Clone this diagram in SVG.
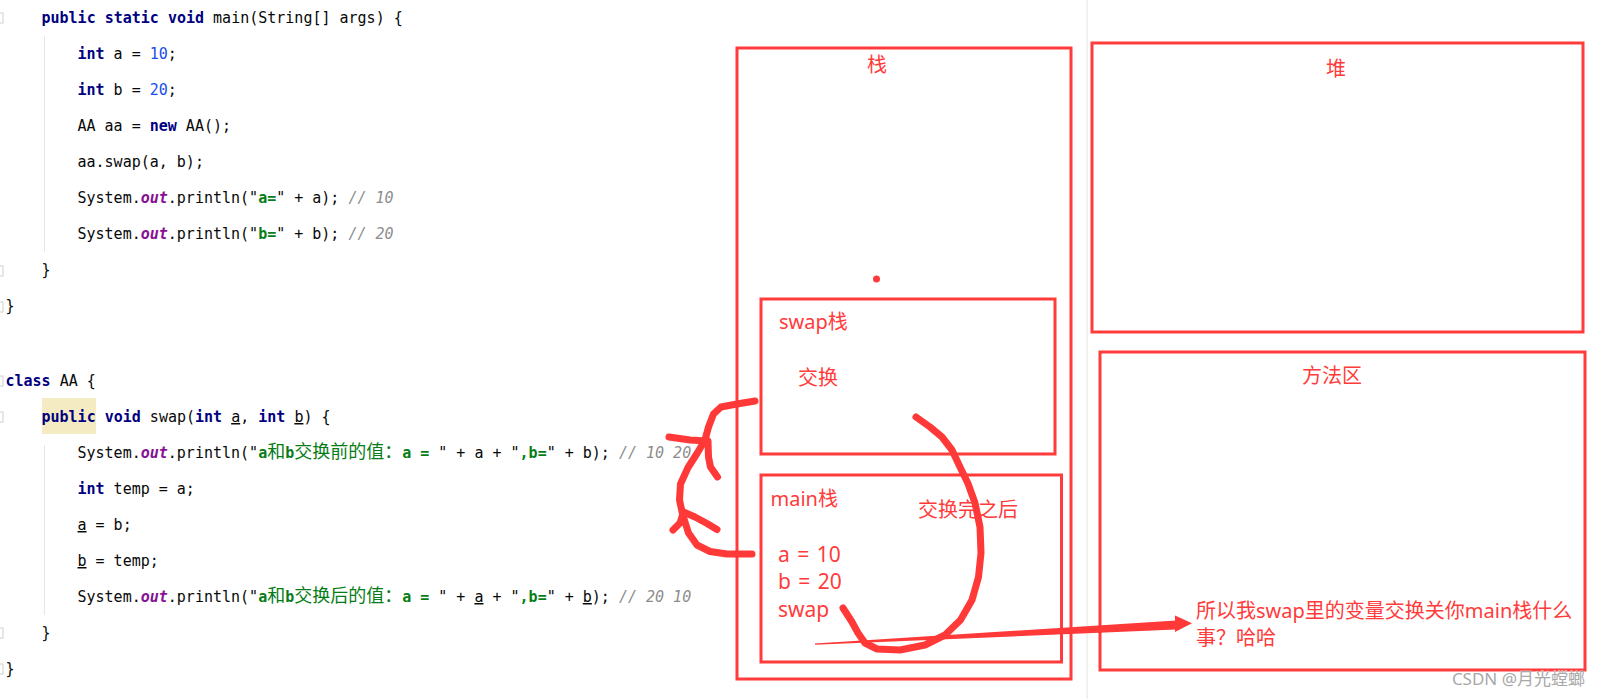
<svg xmlns="http://www.w3.org/2000/svg" width="1600" height="699" viewBox="0 0 1600 699">
<style>
.c{font-family:'DejaVu Sans Mono','Liberation Mono',monospace;font-size:15px;fill:#080808;white-space:pre}
.k{font-weight:bold;fill:#000080}
.n{fill:#1750EB}
.s{font-weight:bold;fill:#067D17}
.cm{font-style:italic;fill:#8C8C8C}
.o{font-weight:bold;font-style:italic;fill:#871094}
.u{text-decoration:underline}
.cj{font-family:'Noto Sans CJK SC',sans-serif;font-size:18px;font-weight:normal}
.box{fill:none;stroke:#FF3B3B;stroke-width:3}
.lbl{font-family:'Noto Sans','Noto Sans CJK SC',sans-serif;font-size:20px;fill:#FF3B3B}
.big{font-size:21px;word-spacing:2px}
.hand{fill:none;stroke:#FF3838;stroke-width:7;stroke-linecap:round;stroke-linejoin:round}
.fold{fill:#fff;stroke:#CFCFCF;stroke-width:1}
.guide{stroke:#E6E6E6;stroke-width:1}
</style>
<rect width="1600" height="699" fill="#FFFFFF"/>
<line x1="1087" y1="0" x2="1087" y2="699" stroke="#E4E4E4" stroke-width="1"/>
<g id="code">
<rect x="-1" y="13" width="4" height="10" class="fold"/>
<rect x="-1" y="266" width="4" height="10" class="fold"/>
<rect x="-1" y="302" width="4" height="10" class="fold"/>
<rect x="-1" y="376" width="4" height="10" class="fold"/>
<rect x="-1" y="412" width="4" height="10" class="fold"/>
<rect x="-1" y="628" width="4" height="10" class="fold"/>
<rect x="-1" y="664" width="4" height="10" class="fold"/>
<line x1="44.5" y1="36" x2="44.5" y2="252" class="guide"/>
<line x1="44.5" y1="445" x2="44.5" y2="615" class="guide"/>
<rect x="42" y="398" width="54" height="36" fill="#F5EBC2"/>
<text class="c" x="41.5" y="23"><tspan class="k">public static void</tspan> main(String[] args) {</text>
<text class="c" x="77.5" y="59"><tspan class="k">int</tspan> a = <tspan class="n">10</tspan>;</text>
<text class="c" x="77.5" y="95"><tspan class="k">int</tspan> b = <tspan class="n">20</tspan>;</text>
<text class="c" x="77.5" y="131">AA aa = <tspan class="k">new</tspan> AA();</text>
<text class="c" x="77.5" y="167">aa.swap(a, b);</text>
<text class="c" x="77.5" y="203">System.<tspan class="o">out</tspan>.println("<tspan class="s">a=</tspan>" + a); <tspan class="cm">// 10</tspan></text>
<text class="c" x="77.5" y="239">System.<tspan class="o">out</tspan>.println("<tspan class="s">b=</tspan>" + b); <tspan class="cm">// 20</tspan></text>
<text class="c" x="41.5" y="275">}</text>
<text class="c" x="5.5" y="311">}</text>
<text class="c" x="5.5" y="386"><tspan class="k">class</tspan> AA {</text>
<text class="c" x="41.5" y="422"><tspan class="k">public void</tspan> swap(<tspan class="k">int</tspan> <tspan class="u">a</tspan>, <tspan class="k">int</tspan> <tspan class="u">b</tspan>) {</text>
<text class="c" x="77.5" y="458">System.<tspan class="o">out</tspan>.println("<tspan class="s">a</tspan><tspan class="s cj">和</tspan><tspan class="s">b</tspan><tspan class="s cj">交换前的值：</tspan><tspan class="s">a = </tspan>" + a + "<tspan class="s">,b=</tspan>" + b); <tspan class="cm">// 10 20</tspan></text>
<text class="c" x="77.5" y="494"><tspan class="k">int</tspan> temp = a;</text>
<text class="c" x="77.5" y="530"><tspan class="u">a</tspan> = b;</text>
<text class="c" x="77.5" y="566"><tspan class="u">b</tspan> = temp;</text>
<text class="c" x="77.5" y="602">System.<tspan class="o">out</tspan>.println("<tspan class="s">a</tspan><tspan class="s cj">和</tspan><tspan class="s">b</tspan><tspan class="s cj">交换后的值：</tspan><tspan class="s">a = </tspan>" + <tspan class="u">a</tspan> + "<tspan class="s">,b=</tspan>" + <tspan class="u">b</tspan>); <tspan class="cm">// 20 10</tspan></text>
<text class="c" x="41.5" y="638">}</text>
<text class="c" x="5.5" y="674">}</text>
</g>
<g id="stack">
<rect x="737" y="48" width="334" height="631" class="box"/>
<text class="lbl" x="867" y="72">栈</text>
<circle cx="876.5" cy="279" r="3.5" fill="#FF3B3B"/>
</g>
<g id="swap-frame">
<rect x="761" y="299" width="294" height="155" class="box"/>
<text class="lbl" x="779" y="329">swap栈</text>
<text class="lbl" x="798" y="385">交换</text>
</g>
<g id="main-frame">
<rect x="761" y="475" width="300.5" height="187" class="box"/>
<text class="lbl" x="770.5" y="506">main栈</text>
<text class="lbl" x="918" y="517">交换完之后</text>
<text class="lbl big" x="778" y="561.5">a = 10</text>
<text class="lbl big" x="778" y="589">b = 20</text>
<text class="lbl big" x="778" y="616.5">swap</text>
</g>
<g id="heap">
<rect x="1092" y="43" width="491" height="289" class="box"/>
<text class="lbl" x="1326" y="76">堆</text>
</g>
<g id="method-area">
<rect x="1100" y="352" width="485" height="318" class="box"/>
<text class="lbl" x="1302" y="383">方法区</text>
<text class="lbl" x="1196" y="618">所以我swap里的变量交换关你main栈什么</text>
<text class="lbl" x="1196" y="645">事？哈哈</text>
</g>
<g id="connectors">
<path class="hand" d="M752 554 L727 554 L710 551.5 L697 545 L688.5 533 L682.5 514 L679.5 500 L680.5 484 L688 467.5 L697 453.5 L705 440 L708.5 427 L713.5 414 L721 407 L737 404 L755 401"/>
<path class="hand" d="M669 437 L690 440 L708 441 L708.5 457 L710.5 467 L717.5 477"/>
<path class="hand" d="M673 530 L680 523 L683.5 512 L695 517 L707 523.5 L717 529.5"/>
<path class="hand" stroke-width="6.5" d="M916 417 L930 427 L942 437 L952 450 L960 467 L968 483.5 L975 503 L980 527 L981 553 L978.5 577 L972 600 L960.5 620 L945 635 L925 645 L900 650 L877 649 L865 643 L858 633 L852 622 L843 608"/>
<polygon points="815,643.6 1176,620.5 1176,629.5 815,644.8" fill="#FF3838"/>
<polygon points="1175,615.5 1192,623.3 1175,632" fill="#FF3838"/>
</g>
<text x="1585" y="685" text-anchor="end" font-family="'Noto Sans','Noto Sans CJK SC',sans-serif" font-size="17" fill="#A8A8A8" stroke="#FFFFFF" stroke-width="0.5" paint-order="stroke">CSDN @月光螳螂</text>
</svg>
